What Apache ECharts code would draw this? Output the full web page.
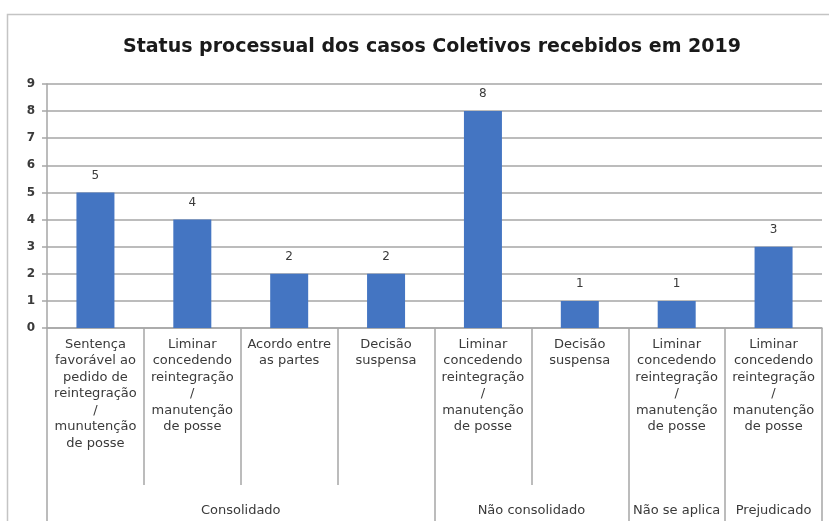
<!DOCTYPE html>
<html>
<head>
<meta charset="utf-8">
<script src="https://cdn.jsdelivr.net/npm/echarts@6/dist/echarts.min.js"></script>
<style>
  html, body { margin: 0; padding: 0; background: #fff; }
  #main { width: 829px; height: 521px; }
</style>
</head>
<body>
<div id="main"></div>
<script>
// categorias (nível 1) e valores
let categorias = [
	'Sentença\nfavorável ao\npedido de\nreintegração\n/\nmunutenção\nde posse',
	'Liminar\nconcedendo\nreintegração\n/\nmanutenção\nde posse',
	'Acordo entre\nas partes',
	'Decisão\nsuspensa',
	'Liminar\nconcedendo\nreintegração\n/\nmanutenção\nde posse',
	'Decisão\nsuspensa',
	'Liminar\nconcedendo\nreintegração\n/\nmanutenção\nde posse',
	'Liminar\nconcedendo\nreintegração\n/\nmanutenção\nde posse'
];
let valores = [5, 4, 2, 2, 8, 1, 1, 3];

// grupos (nível 2): nome, início e fim em índices de categoria
let grupos = ['Consolidado', 'Não consolidado', 'Não se aplica', 'Prejudicado'];
let grupoInicio = [0, 4, 6, 7];
let grupoFim = [4, 6, 7, 8];

let yTicks = [0, 1, 2, 3, 4, 5, 6, 7, 8, 9];

let fonte = '"DejaVu Sans", sans-serif';
let cinza = '#a6a6a6';

let chartDom = document.getElementById('main');
let myChart = echarts.init(chartDom);

let centros = grupos.map(function(g, i) {
	return (grupoInicio[i] + grupoFim[i]) / 2;
});
// separadores longos (entre grupos) e curtos (dentro dos grupos)
let limites = [0].concat(grupoFim);
let internos = [];
for (let i = 1; i < categorias.length; i++) {
	if (limites.indexOf(i) < 0) internos.push(i);
}

let option = {
	backgroundColor: '#fff',
	animation: false,
	title: {
		text: 'Status processual dos casos Coletivos recebidos em 2019',
		left: 118,
		top: 33,
		textStyle: {
			fontFamily: fonte,
			fontSize: 19,
			fontWeight: 'bold',
			color: '#1a1a1a'
		}
	},
	graphic: [{
		type: 'rect',
		shape: { x: 7.5, y: 14.5, width: 900, height: 600 },
		style: { fill: 'none', stroke: '#c4c4c4', lineWidth: 1.5 },
		silent: true
	}],
	grid: {
		left: 47,
		right: 7,
		top: 84,
		bottom: 193
	},
	xAxis: [{
		type: 'category',
		data: categorias,
		axisLine: { lineStyle: { color: cinza, width: 1.5 } },
		axisTick: { show: false },
		axisLabel: {
			interval: 0,
			margin: 8,
			lineHeight: 16.5,
			fontSize: 13,
			fontFamily: fonte,
			color: '#3a3a3a',
			verticalAlign: 'top'
		}
	}, {
		type: 'value',
		position: 'bottom',
		min: 0,
		max: 8,
		axisLine: { show: false },
		splitLine: { show: false },
		axisTick: {
			show: true,
			customValues: limites,
			length: 200,
			lineStyle: { color: cinza, width: 1.5 }
		},
		axisLabel: {
			customValues: centros,
			margin: 176,
			fontSize: 13,
			fontFamily: fonte,
			color: '#3a3a3a',
			formatter: function(v) {
				let i = centros.indexOf(v);
				return i >= 0 ? grupos[i] : '';
			}
		}
	}, {
		type: 'value',
		position: 'bottom',
		min: 0,
		max: 8,
		axisLine: { show: false },
		splitLine: { show: false },
		axisLabel: { show: false },
		axisTick: {
			show: true,
			customValues: internos,
			length: 157,
			lineStyle: { color: cinza, width: 1.5 }
		}
	}],
	yAxis: {
		type: 'value',
		min: yTicks[0],
		max: yTicks[yTicks.length - 1],
		interval: 1,
		axisLine: { show: true, lineStyle: { color: cinza, width: 1.5 } },
		axisTick: { show: true, length: 5, lineStyle: { color: cinza, width: 1.5 } },
		splitLine: { lineStyle: { color: cinza, width: 1.5 } },
		axisLabel: {
			margin: 12,
			fontSize: 12,
			fontFamily: fonte,
			fontWeight: 'bold',
			color: '#3a3a3a'
		}
	},
	series: [{
		type: 'bar',
		data: valores,
		barWidth: 38,
		itemStyle: { color: '#4475c2' },
		label: {
			show: true,
			position: 'top',
			distance: 11,
			fontSize: 12,
			fontFamily: fonte,
			color: '#3a3a3a'
		}
	}]
};

myChart.setOption(option);
</script>
</body>
</html>
